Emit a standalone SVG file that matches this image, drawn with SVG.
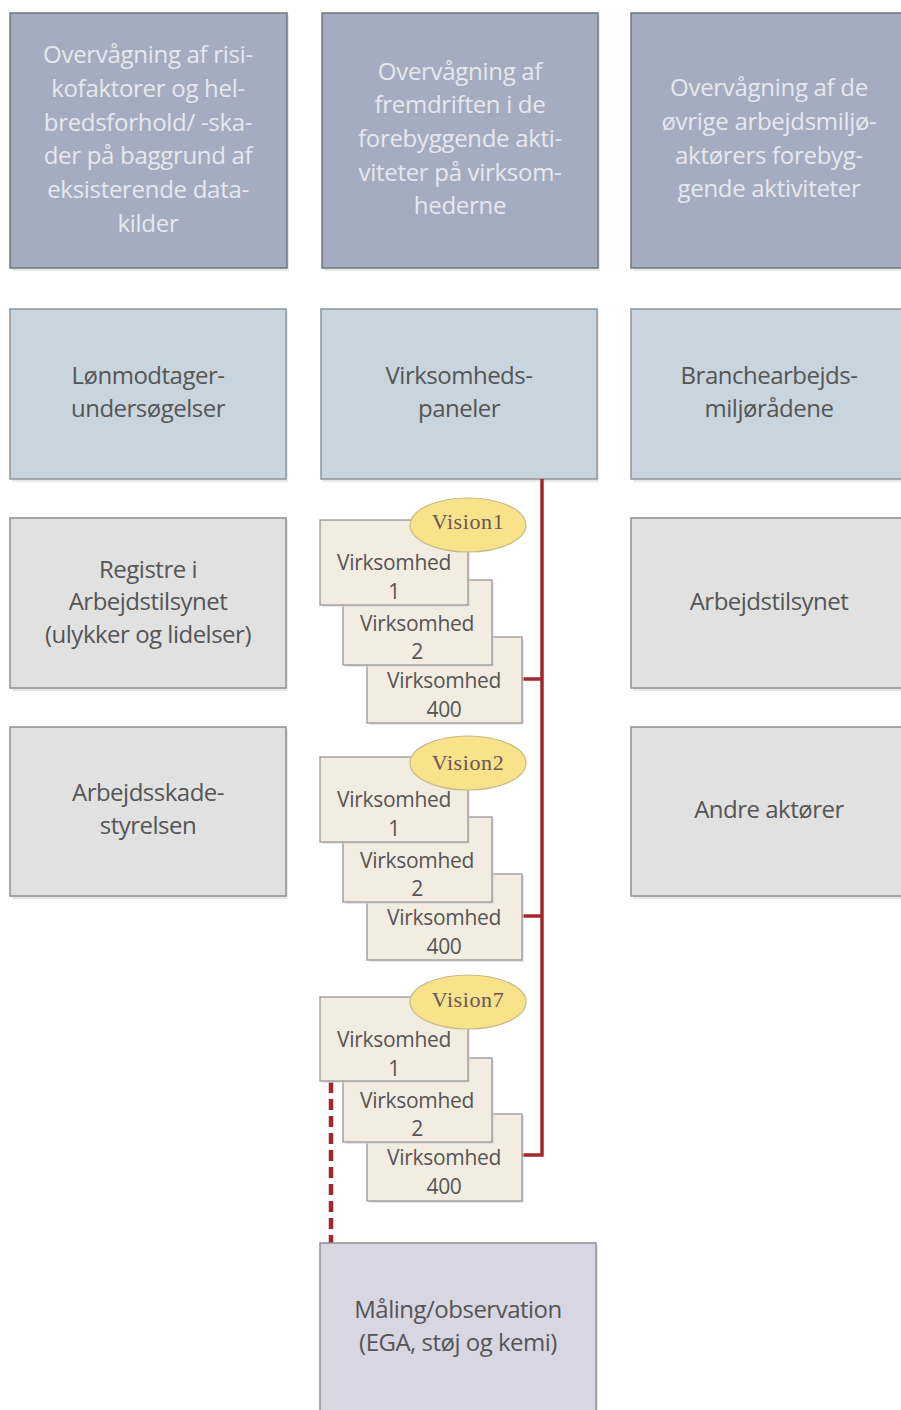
<svg xmlns="http://www.w3.org/2000/svg" width="901" height="1410" viewBox="0 0 901 1410">
<style>
.sh{fill:#d8d8d8;opacity:0.6}
.top{fill:#a3adbf;stroke:#70757f;stroke-width:1.5}
.mid{fill:#c8d5df;stroke:#8e959b;stroke-width:1.5}
.gray{fill:#e1e1e1;stroke:#8f8f8f;stroke-width:1.5}
.biz{fill:#f3ece1;stroke:#8f8f8f;stroke-width:1.2}
.meas{fill:#d9d6e4;stroke:#8f8f8f;stroke-width:1.5}
.ell{fill:#f8e28a;stroke:#c9bb86;stroke-width:1.2}
text{font-family:"Open Sans","Noto Sans","DejaVu Sans",sans-serif;text-anchor:middle}
.tw{fill:#e6e8ee;font-size:24px;letter-spacing:-0.3px}
.td{fill:#555;font-size:24px;letter-spacing:-0.5px}
.tb{fill:#555;font-size:21px;letter-spacing:-0.3px}
.tv{fill:#6b5555;font-family:"Liberation Serif","DejaVu Serif",serif;font-size:22px;letter-spacing:0.6px}
.red{stroke:#a3262b;stroke-width:3.5;fill:none}
.dash{stroke:#a3262b;stroke-width:4.5;fill:none;stroke-dasharray:11,6}
</style>

<g id="top1">
<rect class="sh" x="12" y="15" width="277" height="256"/>
<rect class="top" x="10" y="13" width="277" height="255"/>
<text class="tw"><tspan x="148" y="63">Overvågning af risi-</tspan><tspan x="148" y="97">kofaktorer og hel-</tspan><tspan x="148" y="131">bredsforhold/ -ska-</tspan><tspan x="148" y="164">der på baggrund af</tspan><tspan x="148" y="198">eksisterende data-</tspan><tspan x="148" y="232">kilder</tspan></text>
</g>
<g id="top2">
<rect class="sh" x="324" y="15" width="276" height="256"/>
<rect class="top" x="322" y="13" width="276" height="255"/>
<text class="tw"><tspan x="460" y="80">Overvågning af</tspan><tspan x="460" y="113">fremdriften i de</tspan><tspan x="460" y="147">forebyggende akti-</tspan><tspan x="460" y="181">viteter på virksom-</tspan><tspan x="460" y="214">hederne</tspan></text>
</g>
<g id="top3">
<rect class="sh" x="633" y="15" width="276" height="256"/>
<rect class="top" x="631" y="13" width="276" height="255"/>
<text class="tw"><tspan x="769" y="96">Overvågning af de</tspan><tspan x="769" y="130">øvrige arbejdsmiljø-</tspan><tspan x="769" y="164">aktørers forebyg-</tspan><tspan x="769" y="197">gende aktiviteter</tspan></text>
</g>

<g id="loen">
<rect class="sh" x="12" y="311" width="276" height="171"/>
<rect class="mid" x="10" y="309" width="276" height="170"/>
<text class="td"><tspan x="148" y="384">Lønmodtager-</tspan><tspan x="148" y="417">undersøgelser</tspan></text>
</g>
<g id="panel">
<rect class="sh" x="323" y="311" width="276" height="171"/>
<rect class="mid" x="321" y="309" width="276" height="170"/>
<text class="td"><tspan x="459" y="384">Virksomheds-</tspan><tspan x="459" y="417">paneler</tspan></text>
</g>
<g id="branche">
<rect class="sh" x="633" y="311" width="276" height="171"/>
<rect class="mid" x="631" y="309" width="276" height="170"/>
<text class="td"><tspan x="769" y="384">Branchearbejds-</tspan><tspan x="769" y="417">miljørådene</tspan></text>
</g>

<g id="registre">
<rect class="sh" x="12" y="520" width="276" height="171"/>
<rect class="gray" x="10" y="518" width="276" height="170"/>
<text class="td"><tspan x="148" y="578">Registre i</tspan><tspan x="148" y="610">Arbejdstilsynet</tspan><tspan x="148" y="643">(ulykker og lidelser)</tspan></text>
</g>
<g id="at">
<rect class="sh" x="633" y="520" width="276" height="171"/>
<rect class="gray" x="631" y="518" width="276" height="170"/>
<text class="td"><tspan x="769" y="610">Arbejdstilsynet</tspan></text>
</g>
<g id="ask">
<rect class="sh" x="12" y="729" width="276" height="170"/>
<rect class="gray" x="10" y="727" width="276" height="169"/>
<text class="td"><tspan x="148" y="801">Arbejdsskade-</tspan><tspan x="148" y="834">styrelsen</tspan></text>
</g>
<g id="andre">
<rect class="sh" x="633" y="729" width="276" height="170"/>
<rect class="gray" x="631" y="727" width="276" height="169"/>
<text class="td"><tspan x="769" y="818">Andre aktører</tspan></text>
</g>

<g id="connectors">
<path class="red" d="M542,479 V1155 H522"/>
<path class="red" d="M522,679 H542"/>
<path class="red" d="M522,916 H542"/>
<path class="dash" d="M331,1082 V1243"/>
</g>

<g id="vision1">
<rect class="sh" x="369" y="639" width="155" height="86"/>
<rect class="biz" x="367" y="637" width="155" height="86"/>
<text class="tb"><tspan x="444" y="688">Virksomhed</tspan><tspan x="444" y="717">400</tspan></text>
<rect class="sh" x="345" y="582" width="149" height="85"/>
<rect class="biz" x="343" y="580" width="149" height="85"/>
<text class="tb"><tspan x="417" y="631">Virksomhed</tspan><tspan x="417" y="659">2</tspan></text>
<rect class="sh" x="322" y="522" width="148" height="85"/>
<rect class="biz" x="320" y="520" width="148" height="85"/>
<text class="tb"><tspan x="394" y="570">Virksomhed</tspan><tspan x="394" y="599">1</tspan></text>
<ellipse class="ell" cx="468" cy="525" rx="58" ry="27"/>
<text class="tv" x="468" y="529">Vision1</text>
</g>

<g id="vision2">
<rect class="sh" x="369" y="876" width="155" height="86"/>
<rect class="biz" x="367" y="874" width="155" height="86"/>
<text class="tb"><tspan x="444" y="925">Virksomhed</tspan><tspan x="444" y="954">400</tspan></text>
<rect class="sh" x="345" y="819" width="149" height="85"/>
<rect class="biz" x="343" y="817" width="149" height="85"/>
<text class="tb"><tspan x="417" y="868">Virksomhed</tspan><tspan x="417" y="896">2</tspan></text>
<rect class="sh" x="322" y="759" width="148" height="85"/>
<rect class="biz" x="320" y="757" width="148" height="85"/>
<text class="tb"><tspan x="394" y="807">Virksomhed</tspan><tspan x="394" y="836">1</tspan></text>
<ellipse class="ell" cx="468" cy="763" rx="58" ry="27"/>
<text class="tv" x="468" y="770">Vision2</text>
</g>

<g id="vision7">
<rect class="sh" x="369" y="1116" width="155" height="87"/>
<rect class="biz" x="367" y="1114" width="155" height="87"/>
<text class="tb"><tspan x="444" y="1165">Virksomhed</tspan><tspan x="444" y="1194">400</tspan></text>
<rect class="sh" x="345" y="1060" width="149" height="84"/>
<rect class="biz" x="343" y="1058" width="149" height="84"/>
<text class="tb"><tspan x="417" y="1108">Virksomhed</tspan><tspan x="417" y="1136">2</tspan></text>
<rect class="sh" x="322" y="999" width="148" height="84"/>
<rect class="biz" x="320" y="997" width="148" height="84"/>
<text class="tb"><tspan x="394" y="1047">Virksomhed</tspan><tspan x="394" y="1076">1</tspan></text>
<ellipse class="ell" cx="468" cy="1002" rx="58" ry="27"/>
<text class="tv" x="468" y="1007">Vision7</text>
</g>

<g id="maaling">
<rect class="sh" x="322" y="1245" width="276" height="170"/>
<rect class="meas" x="320" y="1243" width="276" height="170"/>
<text class="td"><tspan x="458" y="1318">Måling/observation</tspan><tspan x="458" y="1351">(EGA, støj og kemi)</tspan></text>
</g>
</svg>
